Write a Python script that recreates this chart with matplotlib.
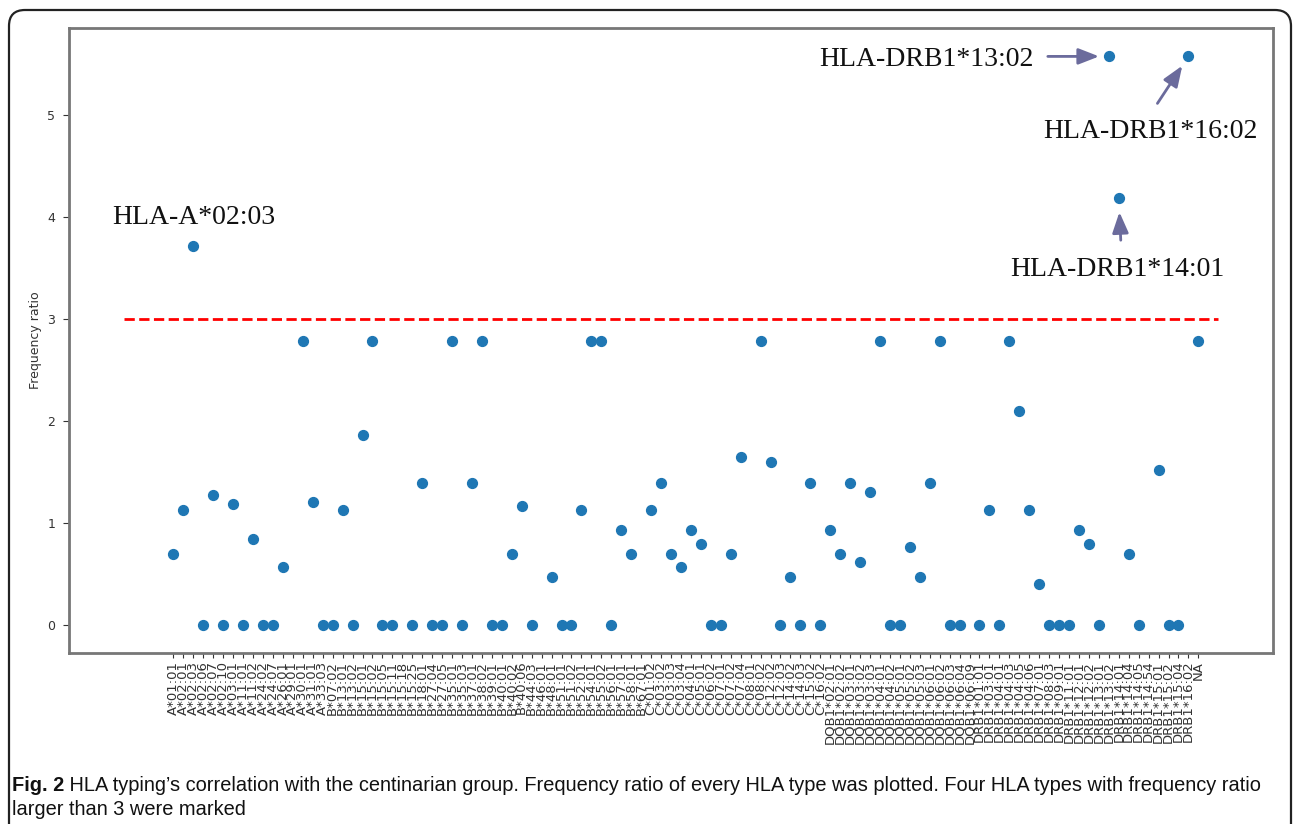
import numpy as np
import matplotlib
matplotlib.use("Agg")
import matplotlib.pyplot as plt
from matplotlib.patches import FancyBboxPatch

# HLA types along the x axis, grouped by locus
a_types = ["01:01", "02:01", "02:03", "02:06", "02:07", "02:10", "03:01", "11:01",
           "11:02", "24:02", "24:07", "26:01", "29:01", "30:01", "31:01", "33:03"]
b_types = ["07:02", "13:01", "13:02", "15:01", "15:02", "15:05", "15:11", "15:18",
           "15:25", "18:01", "27:04", "27:05", "35:01", "35:03", "37:01", "38:02",
           "39:01", "40:01", "40:02", "40:06", "44:03", "46:01", "48:01", "51:01",
           "51:02", "52:01", "54:01", "55:02", "56:01", "57:01", "58:01", "67:01"]
c_types = ["01:02", "03:02", "03:03", "03:04", "04:01", "05:01", "06:02", "07:01",
           "07:02", "07:04", "08:01", "08:02", "12:02", "12:03", "14:02", "14:03",
           "15:02", "16:02"]
dqb1_types = ["02:01", "02:02", "03:01", "03:02", "03:03", "04:01", "04:02", "05:01",
              "05:02", "05:03", "06:01", "06:02", "06:03", "06:04", "06:09"]
drb1_types = ["01:01", "03:01", "04:01", "04:03", "04:05", "04:06", "07:01", "08:03",
              "09:01", "11:01", "12:01", "12:02", "13:01", "13:02", "14:01", "14:04",
              "14:05", "14:54", "15:01", "15:02", "15:04", "16:02"]

labels = (["A*" + t for t in a_types] + ["B*" + t for t in b_types]
          + ["C*" + t for t in c_types] + ["DQB1*" + t for t in dqb1_types]
          + ["DRB1*" + t for t in drb1_types] + ["NA"])

nan = np.nan
freq_ratio = [
    0.69, 1.12, 3.71, 0, 1.27, 0, 1.18, 0, 0.84, 0, 0, 0.56, nan, 2.78, 1.20, 0,
    0, 1.12, 0, 1.86, 2.78, 0, 0, nan, 0, 1.39, 0, 0, 2.78, 0, 1.39, 2.78,
    0, 0, 0.69, 1.16, 0, nan, 0.47, 0, 0, 1.12, 2.78, 2.78, 0, 0.93, 0.69, nan,
    1.12, 1.39, 0.69, 0.56, 0.93, 0.79, 0, 0, 0.69, 1.64, nan, 2.78, 1.59, 0, 0.47, 0,
    1.39, 0, 0.93, 0.69, 1.39, 0.61, 1.30, 2.78, 0, 0, 0.76, 0.47, 1.39, 2.78, 0, 0,
    nan, 0, 1.12, 0, 2.78, 2.09, 1.12, 0.40, 0, 0, 0, 0.93, 0.79, 0, 5.57, 4.18,
    0.69, 0, nan, 1.52, 0, 0, 5.57, 2.78,
]

threshold = 3
line_span = (-5, 105)

caption_bold = "Fig. 2"
caption_rest = (" HLA typing\u2019s correlation with the centinarian group. Frequency ratio "
                "of every HLA type was plotted. Four HLA types with frequency ratio")
caption_line2 = "larger than 3 were marked"

W, H = 1293, 824
fig = plt.figure(figsize=(W / 100, H / 100), dpi=100)

# rounded frame round the whole figure panel
frame = FancyBboxPatch((9, -40), 1282, H - 10 + 40,
                       boxstyle="round,pad=0,rounding_size=16",
                       transform=None, fill=False, ec="#222222", lw=1.6)
fig.patches.append(frame)

ax = fig.add_axes([69 / W, 1 - 653 / H, (1273 - 69) / W, (653 - 28) / H])

x = np.arange(len(labels))
ax.scatter(x, freq_ratio, s=50, color="#1f77b4", zorder=3)
ax.hlines(threshold, *line_span, colors="red", linestyles="--", lw=2)

ax.set_xticks(x)
ax.set_xticklabels(labels, rotation=90, fontsize=9.5, color="#222222")
ax.set_ylabel("Frequency ratio", fontsize=9, color="#333333", labelpad=4)
ax.tick_params(axis="y", labelsize=9, length=4, colors="#333333", pad=6)
ax.tick_params(axis="x", length=3.5, colors="#333333", pad=2)
for s in ax.spines.values():
    s.set_color("#777777")
    s.set_linewidth(2)

serif = dict(family="Liberation Serif", fontsize=20, color="#111111")
arrow_col = "#6b6b9c"
arrow = dict(arrowstyle="-|>,head_length=0.9,head_width=0.35", color=arrow_col,
             lw=2, shrinkA=0, mutation_scale=14)


def point(name):
    i = labels.index(name)
    return (x[i], freq_ratio[i])


ax.annotate("HLA-A*02:03", xy=point("A*02:03"), xytext=(-81, 22),
            textcoords="offset pixels", ha="left", va="baseline", **serif)

p = point("DRB1*13:02")
ax.annotate("HLA-DRB1*13:02", xy=p, xytext=(-290, -10),
            textcoords="offset pixels", ha="left", va="baseline", **serif)
ax.annotate("", xy=p, xytext=(-61, 0), textcoords="offset pixels",
            arrowprops=dict(arrow, shrinkB=7))

p = point("DRB1*16:02")
ax.annotate("HLA-DRB1*16:02", xy=p, xytext=(-145, -82),
            textcoords="offset pixels", ha="left", va="baseline", **serif)
ax.annotate("", xy=p, xytext=(-31, -47), textcoords="offset pixels",
            arrowprops=dict(arrow, shrinkB=8))

p = point("DRB1*14:01")
ax.annotate("HLA-DRB1*14:01", xy=p, xytext=(-109, -78),
            textcoords="offset pixels", ha="left", va="baseline", **serif)
ax.annotate("", xy=p, xytext=(2, -42), textcoords="offset pixels",
            arrowprops=dict(arrow, shrinkB=10))

# caption, sized so the first line ends where the reference's does
cap = dict(family="Liberation Sans", color="#111111", va="baseline")
r = fig.canvas.get_renderer()
size = 15.5
t1 = fig.text(12 / W, 1 - 791 / H, caption_bold, weight="bold", fontsize=size, **cap)
t2 = fig.text(0, 1 - 791 / H, caption_rest, fontsize=size, **cap)
width = t1.get_window_extent(r).width + t2.get_window_extent(r).width
size = size * (1262 - 12) / width
t1.set_fontsize(size)
t2.set_fontsize(size)
t2.set_x(t1.get_window_extent(r).x1 / W)
fig.text(12 / W, 1 - 815 / H, caption_line2, fontsize=size, **cap)

fig.savefig("out.png", dpi=100)
